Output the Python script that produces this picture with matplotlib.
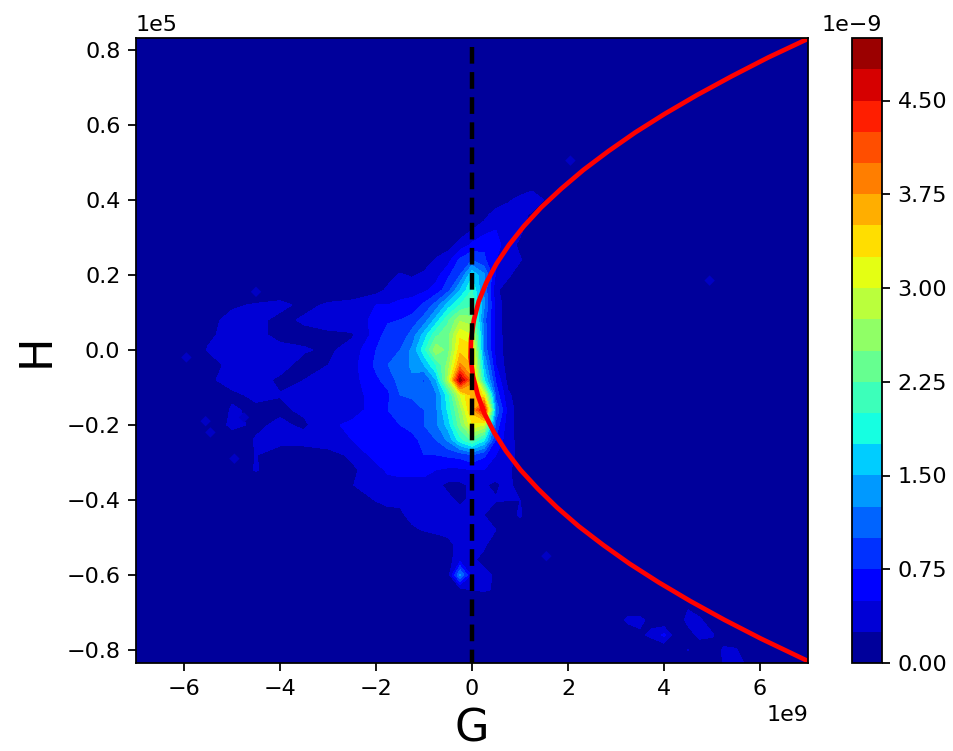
import numpy as np
import matplotlib
matplotlib.use("Agg")
import matplotlib.pyplot as plt

# grid of the central cloud, G in 1e9, H in 1e5, density in 1e-9
g_center = [-6, -5.5, -5, -4.5, -4, -3.5, -3, -2.5, -2, -1.75, -1.5, -1.25, -1, -.75, -.5, -.25,
            0, .25, .5, .75, 1, 1.25, 1.5, 1.75, 2]
h_center = [.48, .44, .40, .36, .32, .28, .24, .20, .16, .12, .08, .04, 0, -.04, -.08, -.12, -.16,
            -.20, -.24, -.28, -.32, -.36, -.40, -.44, -.48, -.52, -.56, -.60, -.64]
z_center = [
    [0, 0, 0, 0, 0, 0, 0, 0, 0, 0, 0, 0, 0, 0, 0, 0, 0, 0, 0, 0, 0, 0, 0, 0, 0],
    [0, 0, 0, 0, 0, 0, 0, 0, 0, 0, 0, 0, 0, 0, 0, 0, 0, 0, 0, 0, 0, .15, .2, 0, 0],
    [0, 0, 0, 0, 0, 0, 0, 0, 0, 0, 0, 0, 0, 0, 0, 0, 0, 0, .05, .2, .35, .4, .25, 0, 0],
    [0, 0, 0, 0, 0, 0, 0, 0, 0, 0, 0, 0, 0, 0, 0, 0, .1, .15, .4, .45, .35, .2, 0, 0, 0],
    [0, 0, 0, 0, 0, 0, 0, 0, 0, 0, 0, 0, 0, 0, 0, .1, .25, .4, .5, .45, .3, .1, 0, 0, 0],
    [0, 0, 0, 0, 0, 0, 0, 0, 0, 0, 0, 0, 0, .05, .15, .35, .55, .7, .6, .35, .2, 0, 0, 0, 0],
    [0, 0, 0, 0, 0, 0, 0, 0, 0, 0, 0, 0, .1, .28, .4, .8, 1.0, .8, .5, .4, .27, .1, 0, 0, 0],
    [0, 0, 0, 0, 0, 0, 0, 0, .05, .15, .28, .22, .3, .4, .7, 1.0, 1.7, 1.3, .45, .3, .1, 0, 0, 0, 0],
    [0, 0, 0, 0, 0, 0, 0, .05, .15, .3, .4, .4, .45, .6, .9, 1.5, 2.0, 1.2, .3, .1, 0, 0, 0, 0, 0],
    [0, .25, .2, .28, .35, .15, .3, .35, .5, .5, .55, .6, .8, 1.1, 1.6, 2.0, 2.2, 1.3, .4, .1, 0, 0, 0, 0, 0],
    [0, .15, .35, .35, .15, .3, .4, .4, .55, .7, .75, .85, 1.1, 1.6, 2.2, 2.7, 2.6, 1.1, .4, .1, 0, 0, 0, 0, 0],
    [0, .2, .35, .35, .15, .15, .18, .22, .6, .9, .8, 1.1, 1.6, 2.2, 2.4, 3.2, 3.0, 1.2, .4, .1, 0, 0, 0, 0, 0],
    [0, .27, .4, .4, .35, .28, .2, .35, .75, 1.0, 1.0, 1.3, 1.9, 2.7, 2.4, 3.4, 3.4, 1.2, .4, .12, 0, 0, 0, 0, 0],
    [0, .1, .35, .4, .35, .15, .25, .4, .8, 1.0, 1.1, 1.3, 1.5, 2.0, 2.6, 3.8, 3.5, 1.5, .5, .12, 0, 0, 0, 0, 0],
    [0, .2, .35, .35, .2, .25, .32, .4, .7, .85, 1.1, 1.2, .95, 1.5, 2.8, 4.9, 3.8, 1.8, .7, .15, 0, 0, 0, 0, 0],
    [0, 0, .2, .3, .26, .3, .35, .4, .6, .7, 1.0, 1.05, 1.1, 1.2, 1.9, 3.0, 3.6, 3.2, .9, .3, .1, 0, 0, 0, 0],
    [0, 0, .28, .2, .2, .3, .35, .4, .6, .75, .8, .85, 1.0, 1.2, 1.8, 2.6, 3.6, 4.6, 1.2, .4, .1, 0, 0, 0, 0],
    [0, 0, .32, .2, .3, .2, .45, .55, .7, .72, .75, .8, 1.0, 1.2, 1.6, 2.4, 3.2, 3.0, .9, .35, .15, 0, 0, 0, 0],
    [0, 0, .1, .27, .35, .35, .4, .5, .65, .65, .7, .7, .8, 1.0, 1.3, 1.9, 2.3, 1.8, .7, .35, .15, 0, 0, 0, 0],
    [0, 0, 0, .26, .1, .1, .15, .3, .6, .65, .55, .65, .75, .75, .8, .85, 1.0, .8, .5, .32, .2, 0, 0, 0, 0],
    [0, 0, 0, .28, 0, 0, 0, .2, .4, .55, .6, .6, .6, .5, .45, .45, .5, .5, .4, .3, .12, 0, 0, 0, 0],
    [0, 0, 0, 0, 0, 0, 0, .24, .38, .38, .38, .38, .38, .3, .2, .2, .3, .27, .2, .35, .08, 0, 0, 0, 0],
    [0, 0, 0, 0, 0, 0, 0, .05, .27, .33, .3, .35, .35, .35, .3, .2, .3, .28, .27, .26, .25, 0, 0, 0, 0],
    [0, 0, 0, 0, 0, 0, 0, 0, .05, .15, .2, .33, .35, .35, .35, .35, .35, .25, .05, .1, .3, 0, 0, 0, 0],
    [0, 0, 0, 0, 0, 0, 0, 0, 0, 0, 0, .2, .27, .32, .35, .4, .35, .35, .25, .05, 0, 0, 0, 0, 0],
    [0, 0, 0, 0, 0, 0, 0, 0, 0, 0, 0, 0, 0, .05, .15, .35, .35, .3, .05, 0, 0, 0, 0, 0, 0],
    [0, 0, 0, 0, 0, 0, 0, 0, 0, 0, 0, 0, 0, 0, .15, .4, .3, .15, 0, 0, 0, 0, 0, 0, 0],
    [0, 0, 0, 0, 0, 0, 0, 0, 0, 0, 0, 0, 0, 0, .1, 1.3, .4, .35, .2, .05, 0, 0, 0, 0, 0],
    [0, 0, 0, 0, 0, 0, 0, 0, 0, 0, 0, 0, 0, 0, 0, .1, .25, .28, .22, 0, 0, 0, 0, 0, 0],
]

# patches in the lower right corner
g_corner = [3, 3.25, 3.5, 3.75, 4, 4.25, 4.5, 4.75, 5, 5.25, 5.5, 5.75]
h_corner = [-.68, -.72, -.76, -.80, -.84]
z_corner = [
    [0, 0, 0, 0, 0, .1, .2, 0, 0, 0, 0, 0],
    [.1, .32, .32, .15, 0, 0, .35, .3, 0, 0, 0, 0],
    [0, .05, .2, .32, .55, .05, .1, .35, .3, 0, 0, 0],
    [0, 0, 0, 0, 0, .05, .26, 0, 0, .32, .28, 0],
    [0, 0, 0, 0, 0, 0, 0, 0, 0, .28, .4, .2],
]

# little isolated spots
spot_g = [-5.95, -5.55, -5.45, -4.95, -4.75, -4.5, 2.05, 4.95, 1.55]
spot_h = [-.02, -.19, -.22, -.29, -.18, .155, .505, .185, -.55]
spot_z = [.3, .3, .3, .3, .3, .3, .3, .3, .3]

# red curve
curve_h = [.83, .78, .73, .68, .63, .58, .53, .48, .43, .38, .33, .28, .23, .18, .13, .08, .03, -.02,
           -.07, -.12, -.17, -.22, -.27, -.32, -.37, -.42, -.47, -.52, -.57, -.62, -.67, -.72, -.77, -.83]
curve_g = [7.0, 6.17, 5.41, 4.69, 4.02, 3.40, 2.84, 2.32, 1.86, 1.44, 1.08, .77, .51, .30, .14, .04, -.02, -.03,
           .02, .12, .26, .46, .71, 1.01, 1.37, 1.77, 2.22, 2.73, 3.28, 3.89, 4.55, 5.26, 6.02, 7.0]

dash_g = [0, 0]
dash_h = [.808, -.84]

x_ticks = [-6, -4, -2, 0, 2, 4, 6]
y_ticks = [-.8, -.6, -.4, -.2, 0, .2, .4, .6, .8]
cbar_ticks = [0, .75, 1.5, 2.25, 3, 3.75, 4.5]

levels = np.arange(0, 5.25, .25) * 1e-9

# pad with zeros so the cloud fades out to the frame
G = np.concatenate([[-7], g_center, [7]]) * 1e9
H = np.concatenate([[-.84, -.68], np.array(h_center)[::-1], [.52, .84]]) * 1e5
Z = np.pad(np.array(z_center)[::-1], ((2, 2), (1, 1))) * 1e-9

fig = plt.figure(figsize=(953 / 160, 751 / 160), dpi=160)
ax = fig.add_axes([136 / 953, 1 - 663 / 751, 672 / 953, 625 / 751])
cax = fig.add_axes([852 / 953, 1 - 663 / 751, 30 / 953, 625 / 751])

cf = ax.contourf(G, H, Z, levels=levels, cmap="jet", vmin=0, vmax=5e-9)
ax.contourf(np.array(g_corner) * 1e9, np.array(h_corner)[::-1] * 1e5, np.array(z_corner)[::-1] * 1e-9,
            levels=levels[1:], cmap="jet", vmin=0, vmax=5e-9)
ax.scatter(np.array(spot_g) * 1e9, np.array(spot_h) * 1e5, c=np.array(spot_z) * 1e-9, s=11, marker="D",
           cmap="jet", vmin=0, vmax=5e-9, linewidths=0)

ax.plot(np.array(curve_g) * 1e9, np.array(curve_h) * 1e5, color="red", lw=2.1)
ax.plot(np.array(dash_g) * 1e9, np.array(dash_h) * 1e5, color="black", ls=(0, (3.75, 1.9)), lw=2)

ax.set_xlim(-7e9, 7e9)
ax.set_ylim(-.835e5, .832e5)
ax.set_xticks(np.array(x_ticks) * 1e9)
ax.set_yticks(np.array(y_ticks) * 1e5)
ax.ticklabel_format(axis="x", style="sci", scilimits=(9, 9))
ax.ticklabel_format(axis="y", style="sci", scilimits=(5, 5))
ax.set_xlabel("G", fontsize=20)
ax.set_ylabel("H", fontsize=20)

cbar = fig.colorbar(cf, cax=cax)
cbar.set_ticks(np.array(cbar_ticks) * 1e-9)

fig.savefig("out.png", dpi=160)
